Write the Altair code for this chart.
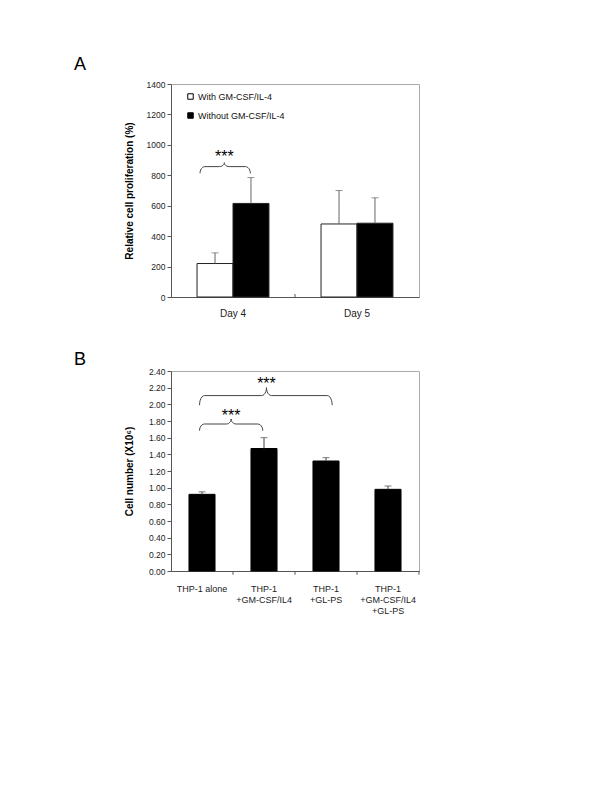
import altair as alt
import pandas as pd
import numpy as np

FONT = "Liberation Sans"

# ---------------- Panel A data ----------------
days = ["Day 4", "Day 5"]
series_names = ["With GM-CSF/IL-4", "Without GM-CSF/IL-4"]
with_vals = [220, 480]
with_errs = [70, 220]
without_vals = [615, 485]
without_errs = [170, 167]
a_yticks = [0, 200, 400, 600, 800, 1000, 1200, 1400]

# ---------------- Panel B data ----------------
groups = ["THP-1 alone", "THP-1\n+GM-CSF/IL4", "THP-1\n+GL-PS", "THP-1\n+GM-CSF/IL4\n+GL-PS"]
b_vals = [0.92, 1.47, 1.32, 0.98]
b_errs = [0.03, 0.13, 0.04, 0.04]
b_yticks = [0.0, 0.2, 0.4, 0.6, 0.8, 1.0, 1.2, 1.4, 1.6, 1.8, 2.0, 2.2, 2.4]

# significance braces: x_left, x_mid, x_right (category-index units), y_end, y_bar, y_peak, star_y
a_brackets = [(0.234, 0.43, 0.64, 813, 857, 883, 945)]
b_brackets = [(0.46, 0.97, 1.48, 1.684, 1.764, 1.824, 1.91),
              (0.46, 1.54, 2.60, 1.99, 2.105, 2.20, 2.296)]
a_boundaries = [1]
b_boundaries = [1, 2, 3, 4]


def brace_points(brackets, r):
    rows = []
    for bid, (xl, xm, xr, ye, yb, yp, _) in enumerate(brackets):
        pts = []
        for t in np.linspace(np.pi, np.pi / 2, 7):
            pts.append((xl + r + r * np.cos(t), ye + (yb - ye) * np.sin(t)))
        for p in np.linspace(0, np.pi / 2, 7):
            pts.append((xm - r + r * np.sin(p), yb + (yp - yb) * (1 - np.cos(p))))
        for p in np.linspace(np.pi / 2, 0, 7):
            pts.append((xm + r - r * np.sin(p), yb + (yp - yb) * (1 - np.cos(p))))
        for t in np.linspace(np.pi / 2, 0, 7):
            pts.append((xr - r + r * np.cos(t), ye + (yb - ye) * np.sin(t)))
        for i, (x, y) in enumerate(pts):
            rows.append({"bid": bid, "ord": i, "bx": x, "by": y})
    return pd.DataFrame(rows)


def star_points(brackets):
    return pd.DataFrame([{"sx": b[1], "sy": b[6]} for b in brackets])


# ---------------- Panel A chart ----------------
dfA = pd.DataFrame({
    "day": days * 2,
    "series": [series_names[0]] * 2 + [series_names[1]] * 2,
    "value": with_vals + without_vals,
    "err": with_errs + without_errs,
})
dfA["upper"] = dfA["value"] + dfA["err"]

a_title = "Relative cell proliferation (%)"
xA = alt.X("day:N", sort=days, title=None,
           scale=alt.Scale(paddingInner=0.42, paddingOuter=0.21),
           axis=alt.Axis(labelAngle=0, ticks=False, tickSize=0, labelPadding=11,
                         labelFontSize=10))
xoffA = alt.XOffset("series:N", sort=series_names,
                    scale=alt.Scale(domain=series_names, paddingInner=0, paddingOuter=0))
yscaleA = alt.Scale(domain=[0, 1400], nice=False)
yaxisA = alt.Axis(values=a_yticks, format="d", tickSize=4, labelPadding=2,
                  titlePadding=12, labelOverlap=False)


def yA(field):
    return alt.Y(field, scale=yscaleA, title=a_title, axis=yaxisA)


barsA = alt.Chart(dfA).mark_bar(stroke="#222", strokeWidth=1).encode(
    x=xA, xOffset=xoffA, y=yA("value:Q"),
    fill=alt.Fill("series:N", sort=series_names,
                  scale=alt.Scale(domain=series_names, range=["white", "black"]),
                  legend=alt.Legend(title=None, orient="none", legendX=15, legendY=8,
                                    symbolType="square", symbolSize=30,
                                    symbolStrokeColor="black", symbolStrokeWidth=1,
                                    labelFont=FONT, labelFontSize=9, labelOffset=3,
                                    rowPadding=8, padding=0, labelColor="#111")),
)
errA = alt.Chart(dfA).mark_rule(color="#666", strokeWidth=1).encode(
    x=xA, xOffset=xoffA, y=yA("value:Q"), y2="upper:Q")
capA = alt.Chart(dfA).mark_tick(color="#666", size=7, thickness=1).encode(
    x=xA, xOffset=xoffA, y=yA("upper:Q"))

qxA = alt.Scale(domain=[0, 2], nice=False)
braceA = alt.Chart(brace_points(a_brackets, 0.04)).mark_line(color="#444", strokeWidth=1).encode(
    x=alt.X("bx:Q", scale=qxA, axis=None),
    y=yA("by:Q"), detail="bid:N", order="ord:Q")
starsA = alt.Chart(star_points(a_brackets)).mark_text(
    text="***", font=FONT, fontSize=16, color="black", baseline="middle", dy=4).encode(
    x=alt.X("sx:Q", scale=qxA, axis=None), y=yA("sy:Q"))
ticksA = alt.Chart(pd.DataFrame({"tx": a_boundaries, "t0": [0], "t1": [20]})).mark_rule(
    color="#555", strokeWidth=1).encode(
    x=alt.X("tx:Q", scale=qxA, axis=None), y=yA("t0:Q"), y2="t1:Q")

chartA = alt.layer(
    alt.layer(barsA, errA, capA),
    alt.layer(braceA, starsA, ticksA),
).resolve_scale(x="independent").properties(
    width=248, height=213,
    title=alt.TitleParams("A", anchor="start", frame="group", dx=-97, fontSize=18, font=FONT,
                          fontWeight="normal", offset=6, color="black"),
)

# ---------------- Panel B chart ----------------
dfB = pd.DataFrame({"group": groups, "value": b_vals, "err": b_errs})
dfB["upper"] = dfB["value"] + dfB["err"]

b_title = "Cell number (X10⁶)"
xB = alt.X("group:N", sort=groups, title=None,
           scale=alt.Scale(paddingInner=0.58, paddingOuter=0.29),
           axis=alt.Axis(labelAngle=0, ticks=False, tickSize=0, labelPadding=13,
                         labelFontSize=9, labelLineHeight=11, labelBaseline="top",
                         labelExpr="split(datum.label, '\\n')"))
yscaleB = alt.Scale(domain=[0, 2.4], nice=False)
yaxisB = alt.Axis(values=b_yticks, format=".2f", tickSize=4, labelPadding=2,
                  titlePadding=14, labelOverlap=False)


def yB(field):
    return alt.Y(field, scale=yscaleB, title=b_title, axis=yaxisB)


barsB = alt.Chart(dfB).mark_bar(color="black", stroke="black", strokeWidth=1).encode(
    x=xB, y=yB("value:Q"))
errB = alt.Chart(dfB).mark_rule(color="#444", strokeWidth=1).encode(
    x=xB, y=yB("value:Q"), y2="upper:Q")
capB = alt.Chart(dfB).mark_tick(color="#444", size=7, thickness=1).encode(
    x=xB, y=yB("upper:Q"))

qxB = alt.Scale(domain=[0, 4], nice=False)
braceB = alt.Chart(brace_points(b_brackets, 0.08)).mark_line(color="#444", strokeWidth=1).encode(
    x=alt.X("bx:Q", scale=qxB, axis=None),
    y=yB("by:Q"), detail="bid:N", order="ord:Q")
starsB = alt.Chart(star_points(b_brackets)).mark_text(
    text="***", font=FONT, fontSize=16, color="black", baseline="middle", dy=4).encode(
    x=alt.X("sx:Q", scale=qxB, axis=None), y=yB("sy:Q"))
ticksB = alt.Chart(pd.DataFrame({"tx": b_boundaries, "t0": [0.0] * 4, "t1": [-0.045] * 4})).mark_rule(
    color="#555", strokeWidth=1).encode(
    x=alt.X("tx:Q", scale=qxB, axis=None), y=yB("t0:Q"), y2="t1:Q")

chartB = alt.layer(
    alt.layer(barsB, errB, capB),
    alt.layer(braceB, starsB, ticksB),
).resolve_scale(x="independent").properties(
    width=248, height=200,
    title=alt.TitleParams("B", anchor="start", frame="group", dx=-97, fontSize=18, font=FONT,
                          fontWeight="normal", offset=-2, color="black"),
)

chart = alt.vconcat(chartA, chartB, spacing=31).properties(
    padding={"left": 65, "top": 47, "right": 5, "bottom": 5}
).configure_axis(
    labelFont=FONT, labelFontSize=8.5, labelColor="#222", labelOverlap=False,
    titleFont=FONT, titleFontSize=10, titleFontWeight="bold", titleColor="black",
    domainColor="#555", tickColor="#555", grid=False, zindex=1,
).configure_view(stroke="#aaa", strokeWidth=1)

chart.save("out.html", embed_options={"renderer": "svg", "actions": False})
